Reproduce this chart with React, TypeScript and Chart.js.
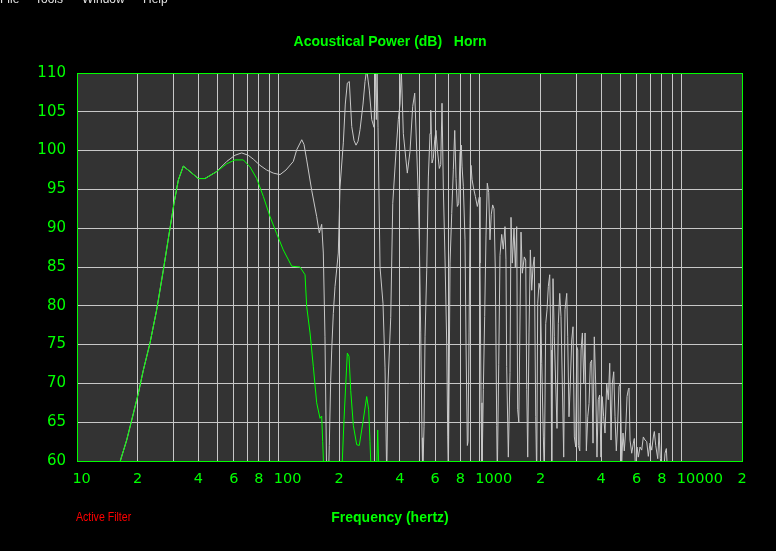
import React, { useEffect, useRef } from 'react';
import { Chart, registerables } from 'chart.js';

Chart.register(...registerables);

// ---------- axis ticks ----------
const xGridFreqs = [
  10, 20, 30, 40, 50, 60, 70, 80, 90,
  100, 200, 300, 400, 500, 600, 700, 800, 900,
  1000, 2000, 3000, 4000, 5000, 6000, 7000, 8000, 9000,
  10000, 20000,
];
const xLabelFreqs = [10, 20, 40, 60, 80, 100, 200, 400, 600, 800, 1000, 2000, 4000, 6000, 8000, 10000, 20000];
const xLabelTexts = ['10', '2', '4', '6', '8', '100', '2', '4', '6', '8', '1000', '2', '4', '6', '8', '10000', '2'];

// ---------- green series (Active filter) ----------
const greenFreq = [
  15.5, 16.4, 17.65, 19.04, 20.15, 21.34, 23.03, 24.87, 26.82, 28.95,
  30.3, 31.84, 33.71, 36.39, 40.0, 43.19, 49.38, 55.36, 60.85, 66.92,
  72.24, 78.0, 84.1, 90.8, 98.0, 105.7, 116.4, 127.9, 135.5, 138.1,
  143.5, 148.9, 154.8, 160.8, 163.9, 165.8, 168.3, 185, 206, 211.5,
  219.7, 224, 228.4, 235.3, 244.6, 251.9, 263.7, 274.2, 280.5, 284.7,
  289, 298, 307.4, 311, 315.7, 330,
];
const greenDb = [
  56, 60, 62.7, 66.1, 68.7, 71.7, 75.2, 79.5, 84.6, 90.0,
  93.2, 96.2, 98.0, 97.3, 96.4, 96.4, 97.3, 98.3, 98.8, 98.8,
  97.9, 96.4, 94.1, 91.5, 89.3, 87.2, 85.1, 85.0, 84.0, 79.9,
  76.5, 72.2, 67.5, 65.5, 65.8, 62.5, 58, 50, 58, 65.3,
  73.9, 73.5, 69.1, 64.6, 62.1, 62.0, 65.3, 68.3, 66.6, 62.5,
  58, 55, 59, 64.0, 58, 50,
];

// ---------- white series (Horn) ----------
const whiteFreq = [
  15.5, 16.4, 17.65, 19.04, 20.15, 21.34, 23.03, 24.87, 26.82, 28.95,
  30.3, 31.84, 33.71, 36.39, 40.0, 43.19, 49.38, 55.36, 60.85, 65.7,
  70.8, 75.0, 81.0, 87.4, 94.3, 101.8, 109, 118.5, 123.2, 130.5,
  133.9, 138.1, 146.2, 154.8, 159.5, 163.9, 167.0, 170.2, 173.5, 176,
  178.8, 181.7, 183.8, 187.2, 190.9, 198.2, 202.1, 209.9, 214.7, 219.7,
  224.8, 231.1, 237.2, 242.7, 248.3, 254.1, 262.9, 269.0, 274.2, 282.5,
  290.4, 298.1, 302.6, 306.1, 308.6, 312.1, 319.3, 330.4, 338.1, 344.7,
  349.9, 360.9, 369.3, 383.5, 393.6, 401.3, 407.3, 416.7, 424.9, 436.2,
  449.8, 463.9, 474.7, 485.6, 494.6, 500.3, 508.4, 516.0, 520.2, 528.0,
  534.1, 544.6, 554.7, 565.5, 570.1, 578.5, 587.2, 596.7, 605.6, 614.6,
  628.9, 639.0, 648.6, 658.3, 671.3, 684.5, 692.3, 697.1, 705.1, 710.8,
  724.7, 738.2, 750.0, 761.3, 772.6, 785.1, 796.8, 808.8, 815.3, 827.4,
  843.6, 853.4, 866.3, 873, 883.3, 893.3, 903.6, 914.1, 927.7, 949.3,
  971.3, 993.1, 1001, 1013, 1024, 1040, 1056, 1072, 1088, 1106,
  1122, 1139, 1157, 1175, 1192, 1212, 1220, 1240, 1258, 1283,
  1306, 1332, 1347, 1358, 1384, 1411, 1427, 1448, 1477, 1499,
  1523, 1540, 1560, 1600, 1624, 1661, 1688, 1708, 1727, 1753,
  1780, 1808, 1835, 1862, 1893, 1914, 1936, 1965, 1995, 2027,
  2065, 2088, 2122, 2154, 2186, 2221, 2254, 2272, 2306, 2341,
  2378, 2414, 2450, 2490, 2527, 2565, 2606, 2645, 2698, 2728,
  2769, 2810, 2856, 2899, 2943, 2991, 3025, 3060, 3081, 3131,
  3178, 3226, 3278, 3327, 3376, 3431, 3482, 3534, 3589, 3643,
  3697, 3756, 3812, 3869, 3930, 3989, 4048, 4114, 4178, 4260,
  4339, 4410, 4476, 4543, 4616, 4685, 4755, 4832, 4904, 4977,
  5057, 5133, 5209, 5294, 5374, 5454, 5498, 5561, 5670, 5775,
  5842, 5937, 6026, 6115, 6234, 6357, 6474, 6602, 6731, 6855,
  6989, 7127, 7258, 7343, 7460, 7634, 7748, 7865, 7991, 8139,
  8298, 8424, 8558, 8786,
];
const whiteDb = [
  56, 60, 62.7, 66.1, 68.7, 71.7, 75.2, 79.5, 84.6, 90.0,
  93.2, 96.2, 98.0, 97.3, 96.4, 96.4, 97.3, 98.6, 99.4, 99.7,
  99.4, 98.9, 98.1, 97.5, 97.1, 96.9, 97.5, 98.6, 100.1, 101.4,
  100.8, 98.8, 94.9, 91.5, 89.4, 90.5, 86.8, 76.0, 58, 55,
  62, 70.4, 74.3, 79, 82.5, 86.8, 95.3, 101, 106, 108.7,
  108.9, 103.1, 101.3, 100.7, 101.2, 102.7, 106, 108.9, 110.5, 107.8,
  104, 103, 110.5, 104, 110.5, 103, 85, 80.3, 72, 58,
  70, 78.5, 93.2, 100, 104, 106, 110.5, 102.2, 100, 97.1,
  99.9, 105.7, 107.4, 100, 94.1, 88.5, 76.5, 63, 58, 64.4,
  76, 84.6, 96.6, 102.2, 105.2, 98.4, 99.0, 101.4, 102.6, 100.2,
  97.7, 98.2, 106.1, 95.3, 85.9, 75, 63.1, 58, 73.4, 85.5,
  91.9, 97.6, 102.6, 96.4, 92.8, 93.2, 99.7, 100.7, 98, 95.4,
  88.5, 75, 62, 62.5, 76.5, 90.6, 98.1, 96.3, 95.3, 94.1,
  92.8, 94.0, 85.5, 67.5, 58, 69.2, 78.6, 89, 95.8, 94.6,
  88.5, 91.8, 93.0, 92.5, 84.9, 64.6, 58, 72.4, 86.5, 89.2,
  87.3, 90.2, 86, 72.2, 60.5, 71.4, 91.4, 85.5, 90, 84.9,
  90.2, 66.6, 65, 89.5, 84.2, 86.3, 85.9, 69.2, 60.5, 76.5,
  87.2, 82.0, 85.0, 86.3, 65.7, 58, 80.3, 82.9, 82, 72.6,
  63.1, 58, 77.7, 79.5, 82.5, 84, 74.3, 58, 83.5, 76.0,
  70.0, 64.2, 77.7, 81.6, 78.6, 70, 60.5, 79.5, 81.6, 76.0,
  65.7, 70.0, 75.6, 77.3, 63.1, 61.8, 74.7, 74.3, 62.0, 61.3,
  74.3, 76.5, 70.0, 76.5, 61.3, 65.7, 67.4, 72.6, 73.0, 62.3,
  76.0, 70.0, 60.5, 67.9, 68.5, 60.5, 68.3, 65.7, 63.6, 70.0,
  67.9, 72.6, 62.7, 70.0, 71.5, 65.7, 61.3, 64.9, 69.6, 70.0,
  60, 63.6, 61.3, 64.0, 68.3, 69.2, 69.4, 62.7, 61.0, 62.3,
  62.9, 58, 61.8, 60.5, 61.8, 61.4, 63.1, 62.7, 62.5, 60.6,
  62.3, 61.4, 63.1, 63.8, 62.0, 60.3, 63.6, 60.3, 59, 58,
  61.0, 61.6, 58, 50,
];

const GREEN = '#00ff00';
const GRID = '#c8c8c8';
const CURVE = '#c8c8c8';

const toPoints = (fs: number[], ds: number[]) =>
  fs.map((f, i) => ({ x: f, y: ds[i] }));

const decorPlugin = {
  id: 'decor',
  beforeDraw(chart: any) {
    const { ctx, chartArea: a } = chart;
    ctx.save();
    ctx.fillStyle = '#000000';
    ctx.fillRect(0, 0, chart.width, chart.height);
    ctx.fillStyle = '#333333';
    ctx.fillRect(a.left, a.top, a.right - a.left, a.bottom - a.top);
    ctx.restore();
  },
  afterDraw(chart: any) {
    const { ctx, chartArea: a } = chart;
    const xs = chart.scales.x;
    ctx.save();
    // plot border
    ctx.strokeStyle = GREEN;
    ctx.lineWidth = 1;
    ctx.strokeRect(a.left + 0.5, a.top + 0.5, a.right - a.left, a.bottom - a.top);

    // x tick labels: first digit centred on the grid line
    ctx.fillStyle = GREEN;
    ctx.font = "14.5px 'DejaVu Sans'";
    ctx.textAlign = 'left';
    ctx.textBaseline = 'alphabetic';
    xLabelFreqs.forEach((f, i) => {
      const t = xLabelTexts[i];
      const px = xs.getPixelForValue(f);
      const w1 = ctx.measureText(t[0]).width;
      ctx.fillText(t, px - w1 / 2, a.bottom + 22);
    });

    // titles
    ctx.textAlign = 'center';
    ctx.font = "bold 14px 'Liberation Sans'";
    ctx.fillText('Acoustical Power (dB)   Horn', 390, 46);
    ctx.fillText('Frequency (hertz)', 390, 522);

    // active filter note (narrow face)
    ctx.save();
    ctx.textAlign = 'left';
    ctx.fillStyle = '#ff0000';
    ctx.font = "12px 'Liberation Sans'";
    ctx.translate(76, 521);
    ctx.scale(0.88, 1);
    ctx.fillText('Active Filter', 0, 0);
    ctx.restore();

    // cut-off menu bar at the very top
    ctx.textAlign = 'left';
    ctx.fillStyle = '#e0e0e0';
    ctx.font = "12px 'Liberation Sans'";
    ctx.fillText('File', 0, 3);
    ctx.fillText('Tools', 35, 3);
    ctx.fillText('Window', 82, 3);
    ctx.fillText('Help', 143, 3);
    ctx.restore();
  },
};

export default function App() {
  const ref = useRef<HTMLCanvasElement>(null);

  useEffect(() => {
    document.body.style.margin = '0';
    document.body.style.background = '#000';
    const chart = new Chart(ref.current as HTMLCanvasElement, {
      type: 'line',
      data: {
        datasets: [
          {
            label: 'Active Filter',
            data: toPoints(greenFreq, greenDb),
            borderColor: GREEN,
            borderWidth: 1,
            pointRadius: 0,
            tension: 0,
          },
          {
            label: 'Horn',
            data: toPoints(whiteFreq, whiteDb),
            borderColor: CURVE,
            borderWidth: 1,
            pointRadius: 0,
            tension: 0,
          },
        ],
      },
      options: {
        animation: false,
        responsive: false,
        devicePixelRatio: 1,
        layout: { padding: { top: 73, right: 34, left: 0, bottom: 0 } },
        plugins: {
          legend: { display: false },
          tooltip: { enabled: false },
          title: { display: false },
        },
        scales: {
          x: {
            type: 'logarithmic',
            min: 10,
            max: 20000,
            afterBuildTicks: (s: any) => {
              s.ticks = xGridFreqs.map((v) => ({ value: v }));
            },
            afterFit: (s: any) => {
              s.height = 90;
            },
            ticks: { display: false },
            grid: { color: GRID, lineWidth: 1, drawTicks: false },
            border: { display: false },
          },
          y: {
            type: 'linear',
            min: 60,
            max: 110,
            afterFit: (s: any) => {
              s.width = 77;
            },
            ticks: {
              stepSize: 5,
              color: GREEN,
              padding: 11,
              font: { family: 'DejaVu Sans', size: 15, weight: 'normal' },
            },
            grid: { color: GRID, lineWidth: 1, drawTicks: false },
            border: { display: false },
          },
        },
      },
      plugins: [decorPlugin],
    } as any);
    return () => chart.destroy();
  }, []);

  return (
    <div style={{ position: 'fixed', left: 0, top: 0, width: 776, height: 551, background: '#000' }}>
      <canvas ref={ref} width={776} height={551} style={{ display: 'block', width: 776, height: 551 }} />
    </div>
  );
}
